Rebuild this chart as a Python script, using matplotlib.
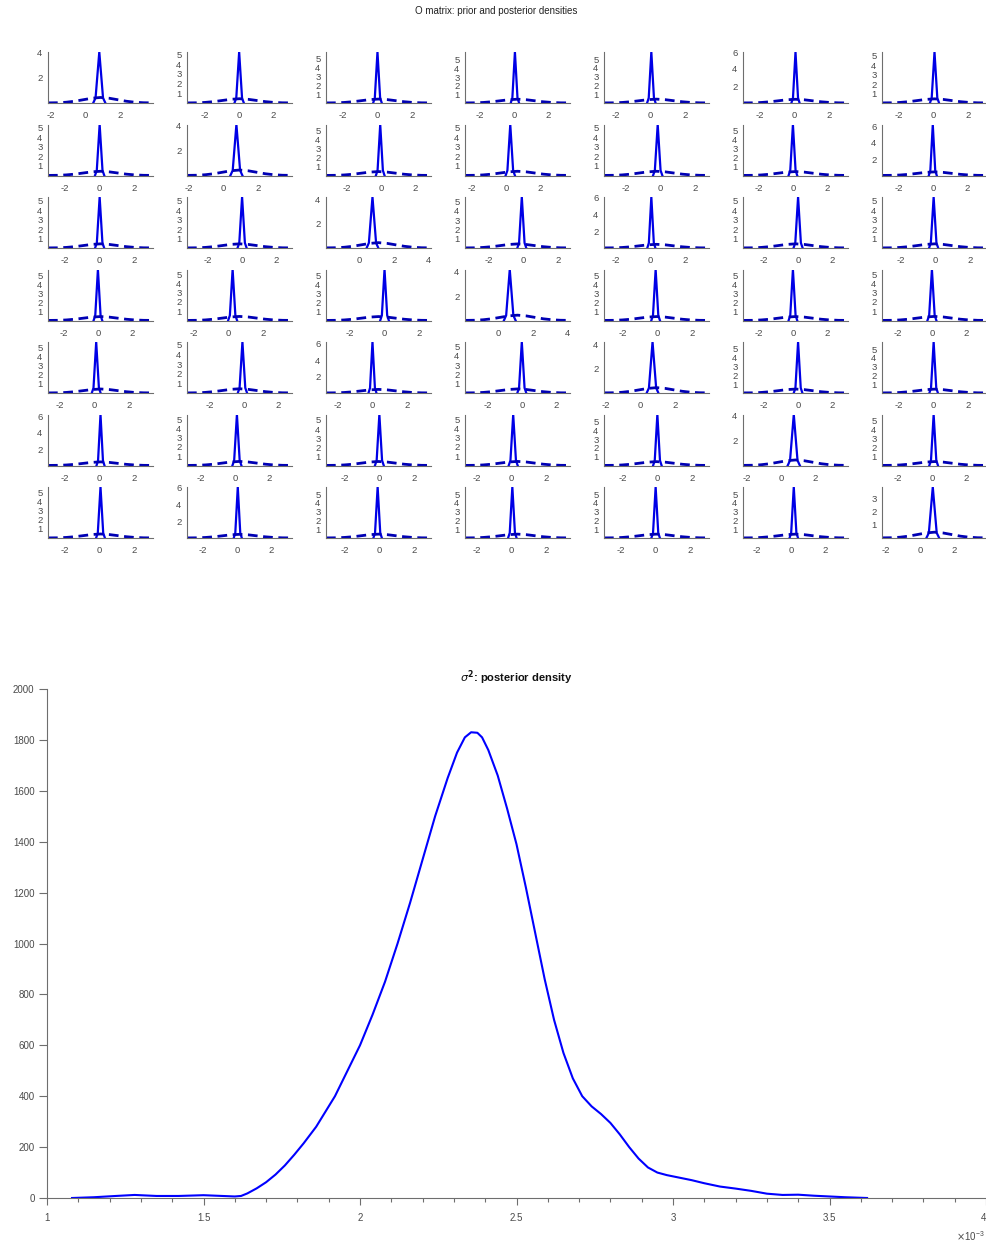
import numpy as np
import matplotlib
matplotlib.use("Agg")
import matplotlib.pyplot as plt
from matplotlib.ticker import MultipleLocator, FuncFormatter

plt.rcParams['font.family'] = ['Liberation Sans', 'DejaVu Sans']

# ---------------- data: O matrix (7x7) ----------------
# posterior peak location per element
post_peak = [
    [0.80, 0.00, 0.00, 0.05, 0.05, 0.05, 0.05],
    [0.00, 0.75, -0.05, 0.25, -0.15, 0.00, 0.00],
    [0.00, 0.00, 0.75, -0.10, 0.05, 0.00, -0.10],
    [0.00, 0.25, 0.00, 0.65, -0.10, 0.00, 0.00],
    [0.10, -0.10, 0.00, 0.00, 0.70, 0.00, 0.00],
    [0.05, 0.10, 0.00, 0.10, 0.00, 0.75, 0.10],
    [0.05, 0.05, -0.10, 0.05, 0.00, 0.15, 0.75],
]
# posterior peak height per element
post_height = [
    [4.05, 5.25, 5.70, 5.90, 5.80, 6.00, 5.40],
    [5.30, 4.10, 5.70, 5.30, 5.30, 5.70, 6.20],
    [5.40, 5.40, 4.20, 5.50, 6.10, 5.40, 5.40],
    [5.70, 5.50, 5.70, 4.20, 5.70, 5.70, 5.50],
    [5.60, 5.30, 6.20, 5.50, 4.20, 5.70, 5.80],
    [6.20, 5.50, 5.60, 5.50, 5.80, 4.05, 5.70],
    [5.60, 6.10, 5.80, 5.80, 5.80, 5.80, 3.85],
]
# prior centre per element
prior_mean = [
    [0.87, 0.02, 0.06, 0.20, 0.35, 0.05, 0.05],
    [0.05, 0.93, -0.15, 0.67, -0.22, 0.15, 0.10],
    [0.05, -0.15, 1.10, -0.35, 0.35, -0.15, -0.05],
    [0.15, 0.65, -0.35, 1.10, -0.05, 0.15, 0.15],
    [0.35, -0.27, 0.35, -0.25, 0.93, -0.15, 0.05],
    [0.05, 0.25, -0.05, 0.35, -0.05, 0.85, 0.15],
    [0.05, 0.15, -0.05, 0.35, 0.05, 0.25, 0.85],
]
# shared shapes
prior_offsets = [-3.05, -2.5, -2.0, -1.5, -1.0, -0.5, 0.0, 0.5, 1.0, 1.5, 2.0, 2.5, 3.05]
prior_values = [0.01, 0.02, 0.06, 0.14, 0.26, 0.38, 0.44, 0.38, 0.26, 0.14, 0.06, 0.02, 0.01]
spike_offsets = [-0.26, -0.16, -0.08, 0.0, 0.08, 0.16, 0.26]   # for a peak of height 5.5
spike_values = [0.0, 0.10, 0.55, 1.0, 0.55, 0.10, 0.0]          # relative to peak height
spike_ref_height = 5.5

# ---------------- data: sigma^2 posterior density (x in units of 1e-3) ----------------
sig_x = [1.08, 1.15, 1.22, 1.28, 1.35, 1.42, 1.50, 1.56, 1.60, 1.62, 1.64, 1.67, 1.70,
         1.73, 1.76, 1.79, 1.82, 1.86, 1.92, 1.96, 2.00, 2.04, 2.08, 2.12, 2.16, 2.20,
         2.24, 2.28, 2.31, 2.335, 2.355, 2.375, 2.39, 2.41, 2.44, 2.47, 2.50, 2.53,
         2.56, 2.59, 2.62, 2.65, 2.68, 2.71, 2.74, 2.77, 2.80, 2.83, 2.86, 2.89, 2.92,
         2.95, 2.98, 3.02, 3.06, 3.10, 3.15, 3.20, 3.25, 3.30, 3.35, 3.40, 3.45, 3.50,
         3.55, 3.62]
sig_y = [0, 3, 8, 12, 8, 8, 11, 8, 6, 8, 18, 38, 62,
         92, 128, 170, 215, 280, 400, 500, 600, 720, 850, 1000, 1160, 1330,
         1500, 1650, 1750, 1810, 1830, 1828, 1810, 1760, 1660, 1530, 1390, 1220,
         1040, 860, 700, 570, 470, 400, 360, 330, 295, 250, 200, 155, 120,
         100, 90, 80, 70, 58, 45, 37, 28, 17, 12, 13, 9, 6,
         3, 0]
sig_yticks = list(range(0, 2001, 200))
sig_xticks = [1, 1.5, 2, 2.5, 3, 3.5, 4]

# ---------------- figure ----------------
W, H = 986, 1243
fig = plt.figure(figsize=(W / 100, H / 100), dpi=100)

def px_axes(left, top, w, h):
    return fig.add_axes([left / W, 1 - (top + h) / H, w / W, h / H])

AX_GRAY = '#6e6e6e'
TXT_GRAY = '#4a4a4a'
SOLID = '#0000e6'
DASH = '#0000b4'

fig.text(496 / W, 1 - 11 / H, 'O matrix: prior and posterior densities',
         ha='center', va='center', fontsize=7, color='#222222')

for r in range(7):
    for c in range(7):
        ax = px_axes(48 + 139 * c, 52 + 72.5 * r, 105, 51)
        h = post_height[r][c]
        pk = post_peak[r][c]
        pm = prior_mean[r][c]
        sx = pk + np.array(spike_offsets) * (spike_ref_height / h)
        sy = np.array(spike_values) * h
        px = pm + np.array(prior_offsets)
        py = np.array(prior_values)
        ax.plot(sx, sy, color=SOLID, lw=1.6, solid_joinstyle='miter')
        ax.plot(px, py, color=DASH, lw=2.0, linestyle=(0, (3.5, 2.0)))
        ax.set_xlim(px.min(), px.max())
        ax.set_ylim(0, h)
        if h >= 6:
            yt = [2, 4, 6]
        elif h >= 5:
            yt = [1, 2, 3, 4, 5]
        elif h >= 4:
            yt = [2, 4]
        else:
            yt = [1, 2, 3]
        ax.set_yticks(yt)
        ax.xaxis.set_major_locator(MultipleLocator(2))
        ax.xaxis.set_major_formatter(FuncFormatter(lambda v, p: f'{v:g}'))
        for s in ('top', 'right'):
            ax.spines[s].set_visible(False)
        for s in ('left', 'bottom'):
            ax.spines[s].set_color(AX_GRAY)
            ax.spines[s].set_linewidth(0.8)
        ax.tick_params(axis='both', length=0, labelsize=6.8, colors=TXT_GRAY)
        ax.tick_params(axis='x', pad=6)
        ax.tick_params(axis='y', pad=4)

# bottom panel
ax = px_axes(47, 689, 939, 509)
ax.plot(np.array(sig_x) * 1e-3, sig_y, color='#0000ff', lw=1.5)
ax.set_xlim(1e-3, 4e-3)
ax.set_ylim(0, 2000)
ax.set_yticks(sig_yticks)
ax.set_xticks(np.array(sig_xticks) * 1e-3)
ax.set_xticklabels([f'{v:g}' for v in sig_xticks])
ax.get_xticklabels()[-1].set_ha('right')
ax.xaxis.set_minor_locator(MultipleLocator(0.1e-3))
for s in ('top', 'right'):
    ax.spines[s].set_visible(False)
for s in ('left', 'bottom'):
    ax.spines[s].set_color(AX_GRAY)
    ax.spines[s].set_linewidth(0.8)
ax.tick_params(axis='both', which='both', direction='out', colors=AX_GRAY,
               labelcolor=TXT_GRAY, labelsize=7, width=0.8)
ax.tick_params(axis='y', which='major', length=6, pad=3)
ax.tick_params(axis='x', which='major', length=5, pad=6)
ax.tick_params(axis='x', which='minor', length=3)
ax.set_title(r'$\sigma^\mathbf{2}$: posterior density', fontsize=8, fontweight='bold',
             pad=5, color='#111111')
fig.text(985 / W, 1 - 1236 / H, r'$\times\mathdefault{10^{-3}}$', ha='right', va='center',
         fontsize=7, color=TXT_GRAY)

fig.savefig('out.png', dpi=100)
